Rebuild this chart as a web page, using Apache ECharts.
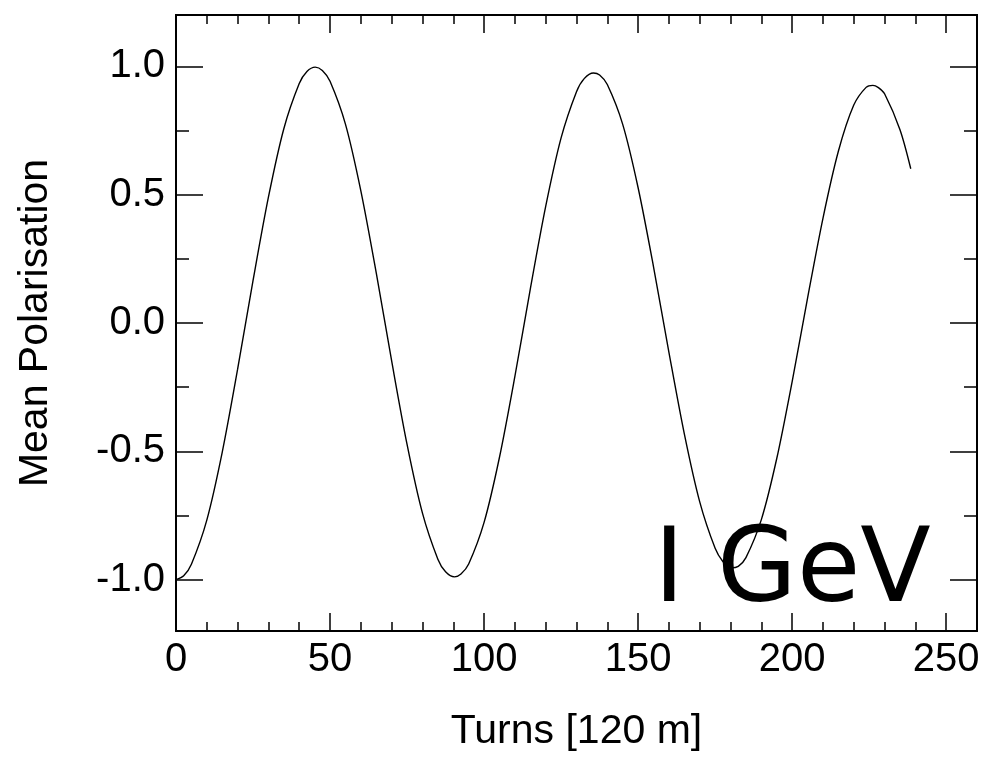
<!DOCTYPE html>
<html>
<head>
<meta charset="utf-8">
<script src="https://cdn.jsdelivr.net/npm/echarts@6/dist/echarts.min.js"></script>
<style>
  html, body { margin: 0; padding: 0; background: #fff; }
  #chart { width: 986px; height: 757px; }
</style>
</head>
<body>
<div id="chart"></div>
<script>
// Turn number (one turn = 120 m ring) and the mean spin polarisation at that turn
const turns = [
  0, 2.5, 5, 10, 15, 20, 25, 30, 35, 40, 42.5, 45.2, 47.5, 50, 55, 60, 65, 70, 75, 80, 85, 87.5, 90.4, 92.5,
  95, 100, 105, 110, 115, 120, 125, 130, 132.5, 135.5, 137.5, 140, 145, 150, 155, 160, 165, 170, 175, 177.5, 180.2, 182.5,
  185, 190, 195, 200, 205, 210, 215, 220, 224, 226.2, 228, 230, 235, 238.5
];
const polarisation = [
  -1.000, -0.985, -0.940, -0.768, -0.504, -0.180, 0.165, 0.490, 0.757, 0.933, 0.980, 0.997, 0.984, 0.942, 0.775, 0.515, 0.195, -0.148, -0.473, -0.741, -0.920, -0.969, -0.989, -0.978,
  -0.939, -0.777, -0.523, -0.208, 0.132, 0.454, 0.721, 0.901, 0.952, 0.974, 0.966, 0.929, 0.774, 0.527, 0.219, -0.114, -0.432, -0.697, -0.878, -0.929, -0.954, -0.948,
  -0.914, -0.766, -0.528, -0.228, 0.097, 0.408, 0.669, 0.849, 0.918, 0.926, 0.917, 0.893, 0.753, 0.601
];

const xRange = { min: 0, max: 260, interval: 50 };
const yRange = { min: -1.2, max: 1.2 };
const yMajorTicks = [-1.0, -0.5, 0.0, 0.5, 1.0];
const yMinorTicks = [-0.75, -0.25, 0.25, 0.75];
const energyLabel = 'I GeV';

const FONT = '"Liberation Sans", Arial, Helvetica, sans-serif';
const ink = '#000';

function xAxisCfg(pos, showLabels) {
  return {
    type: 'value', position: pos, min: xRange.min, max: xRange.max, interval: xRange.interval,
    axisLine: { show: true, onZero: false, lineStyle: { color: ink, width: 2 } },
    axisTick: { show: true, inside: true, length: 18, lineStyle: { color: ink, width: 1.5 } },
    minorTick: { show: true, splitNumber: 5, length: 9, lineStyle: { color: ink, width: 1.5 } },
    splitLine: { show: false },
    axisLabel: {
      show: showLabels, color: ink, fontFamily: FONT, fontSize: 40, margin: 9,
      showMaxLabel: false,
      formatter: v => (v % 50 === 0 ? String(v) : '')
    },
    name: showLabels ? 'Turns [120 m]' : '',
    nameLocation: 'middle', nameGap: 80,
    nameTextStyle: { color: ink, fontFamily: FONT, fontSize: 41 }
  };
}

// One y axis per tick family: long ticks with labels, short ticks without
function yAxisCfg(pos, ticks, tickLen, withLabels) {
  return {
    type: 'value', position: pos, offset: 0, min: yRange.min, max: yRange.max,
    axisLine: { show: true, onZero: false, lineStyle: { color: ink, width: 2 } },
    axisTick: { show: true, inside: true, length: tickLen, customValues: ticks,
                lineStyle: { color: ink, width: 1.5 } },
    minorTick: { show: false },
    splitLine: { show: false },
    axisLabel: {
      show: withLabels, customValues: ticks, color: ink, fontFamily: FONT, fontSize: 40, margin: 11,
      formatter: v => v.toFixed(1)
    },
    name: withLabels ? 'Mean Polarisation' : '',
    nameLocation: 'middle', nameGap: 120,
    nameTextStyle: { color: ink, fontFamily: FONT, fontSize: 41 }
  };
}

const chart = echarts.init(document.getElementById('chart'), null, { renderer: 'canvas' });

chart.setOption({
  animation: false,
  backgroundColor: '#fff',
  grid: { left: 176, right: 9, top: 15, bottom: 124, containLabel: false },
  xAxis: [xAxisCfg('bottom', true), xAxisCfg('top', false)],
  yAxis: [
    yAxisCfg('left', yMajorTicks, 27, true),
    yAxisCfg('left', yMinorTicks, 13, false),
    yAxisCfg('right', yMajorTicks, 27, false),
    yAxisCfg('right', yMinorTicks, 13, false)
  ],
  series: [{
    type: 'line',
    xAxisIndex: 0, yAxisIndex: 0,
    data: turns.map((t, i) => [t, polarisation[i]]),
    showSymbol: false,
    smooth: 0.3,
    lineStyle: { color: ink, width: 1.4 },
    clip: true
  }],
  graphic: [{
    type: 'text',
    left: 654, top: 523,
    style: { text: energyLabel, font: '400 103px "DejaVu Sans", sans-serif', fill: ink }
  }]
});
</script>
</body>
</html>
